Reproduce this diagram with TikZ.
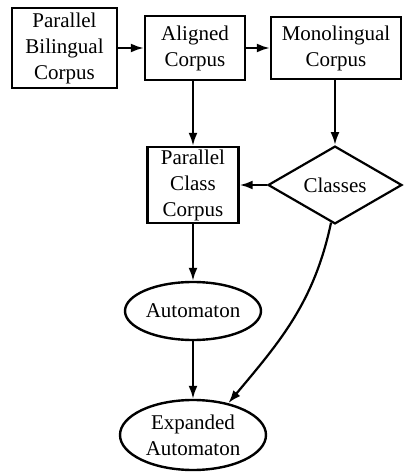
\documentclass[tikz,border=0pt]{standalone}
\usepackage{fontspec}
\setmainfont{Liberation Serif}
\usetikzlibrary{shapes.geometric,arrows.meta}
\begin{document}
\begin{tikzpicture}[x=0.5pt,y=0.5pt,
    every node/.style={font=\fontsize{10.5}{13}\selectfont, align=center, inner sep=0pt},
    corpus/.style={draw, line width=1.2pt, rectangle},
    classbox/.style={draw, line width=1.1pt, diamond, minimum width=67pt, minimum height=28pt},
    fsa/.style={draw, line width=1.2pt, ellipse},
    flow/.style={line width=1.1pt, -{Latex[length=6.5pt,width=4.5pt]}}
]
\useasboundingbox (0,0) rectangle (403,472);

  % corpora on the top row
  \node[corpus, minimum width=52.5pt, minimum height=40pt] (pbc) at (64.5,424) {Parallel\\Bilingual\\Corpus};
  \node[corpus, minimum width=50pt, minimum height=32pt] (ac) at (195,424) {Aligned\\Corpus};
  \node[corpus, minimum width=65pt, minimum height=31pt] (mc) at (336,424) {Monolingual\\Corpus};

  \node[corpus, minimum width=45.5pt, minimum height=38pt] (pcc) at (193,287) {Parallel\\Class\\Corpus};
  \node[classbox] (cls) at (335,287) {Classes};

  % automata
  \node[fsa, minimum width=68pt, minimum height=29pt] (aut) at (193,161) {Automaton};
  \node[fsa, minimum width=73pt, minimum height=35pt] (eaut) at (193,37) {Expanded\\Automaton};

\draw[flow] (pbc.east) -- (ac.west);
\draw[flow] (ac.east) -- (mc.west);
\draw[flow] (ac.south -| pcc.north) -- (pcc.north);
\draw[flow] (mc.south -| cls.north) -- (cls.north);
\draw[flow] (cls.west) -- (pcc.east);
\draw[flow] (pcc.south) -- (aut.north);
\draw[flow] (aut.south) -- (eaut.north);
\draw[flow] (cls.264) to[out=-102, in=50] (eaut.42);

\end{tikzpicture}
\end{document}
